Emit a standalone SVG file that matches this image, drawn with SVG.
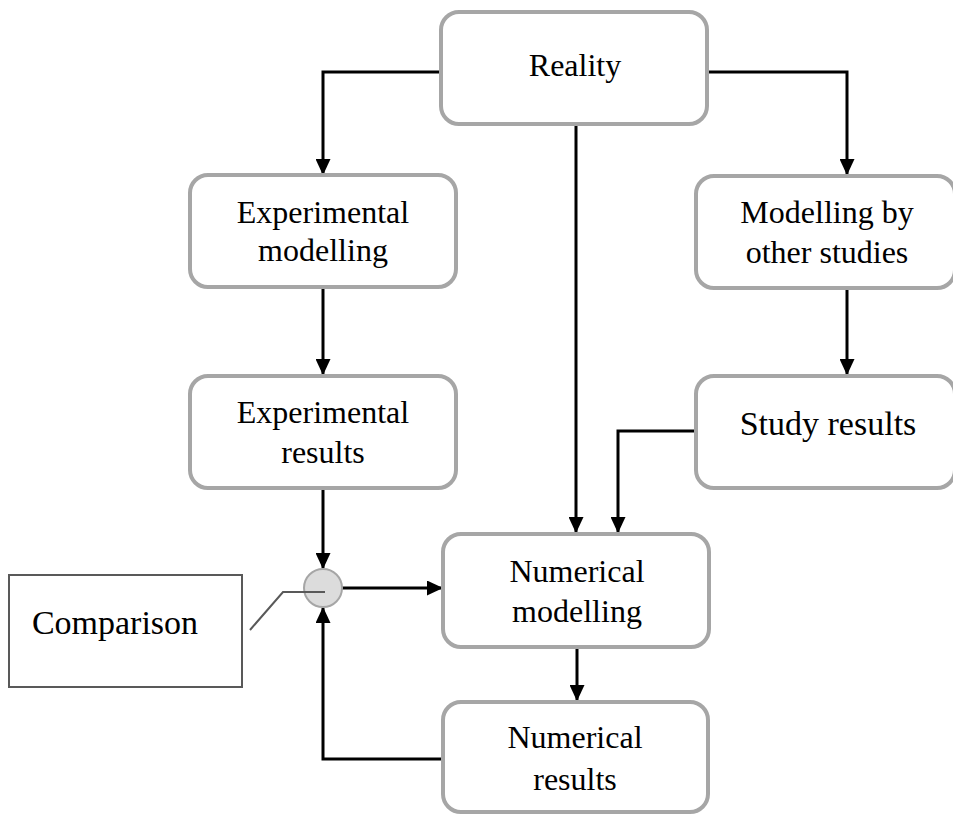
<svg xmlns="http://www.w3.org/2000/svg" width="953" height="815" viewBox="0 0 953 815">
<defs>
<marker id="ah" markerWidth="5.4" markerHeight="5" refX="5" refY="2.5" orient="auto" markerUnits="strokeWidth" viewBox="0 0 5.4 5">
<path d="M0,0 L5.4,2.5 L0,5 Z" fill="#000"/>
</marker>
<style>
.box{fill:#fff;stroke:#a6a6a6;stroke-width:4}
.t{font-size:32px;fill:#000;text-anchor:middle}
.tb{font-size:34px}
.c{fill:none;stroke:#000;stroke-width:3;marker-end:url(#ah)}
</style>
</defs>
<rect width="953" height="815" fill="#fff"/>
<g id="connectors">
<path class="c" d="M441,72 H323 V174"/>
<path class="c" d="M708,72 H847 V174"/>
<path class="c" d="M576,125 V532"/>
<path class="c" d="M696,431 H618 V532"/>
<path class="c" d="M323,288 V374"/>
<path class="c" d="M847,290 V374"/>
<path class="c" d="M323,488 V568"/>
<path class="c" d="M342,588 H442"/>
<path class="c" d="M577,648 V700"/>
<path class="c" d="M443,759 H323 V608"/>
</g>
<g font-family="Liberation Serif, Tinos, Times New Roman, DejaVu Serif, serif">
<g id="reality"><rect class="box" x="441" y="12" width="266" height="112" rx="18"/><text class="t" x="575" y="76">Reality</text></g>
<g id="exp-modelling"><rect class="box" x="190" y="175" width="266" height="112" rx="18"/><text class="t" x="323" y="223">Experimental</text><text class="t" x="323" y="261">modelling</text></g>
<g id="exp-results"><rect class="box" x="190" y="376" width="266" height="112" rx="18"/><text class="t" x="323" y="423">Experimental</text><text class="t" x="323" y="463">results</text></g>
<g id="other-modelling"><rect class="box" x="696" y="176" width="259" height="112" rx="18"/><text class="t" x="827" y="223">Modelling by</text><text class="t" x="827" y="263">other studies</text></g>
<g id="study-results"><rect class="box" x="696" y="376" width="259" height="112" rx="18"/><text class="t tb" x="828" y="435">Study results</text></g>
<g id="num-modelling"><rect class="box" x="443" y="534" width="266" height="113" rx="18"/><text class="t" x="577" y="582">Numerical</text><text class="t" x="577" y="622">modelling</text></g>
<g id="num-results"><rect class="box" x="443" y="702" width="265" height="110" rx="18"/><text class="t" x="575" y="748">Numerical</text><text class="t" x="575" y="790">results</text></g>
<g id="comparison"><rect x="9" y="575" width="233" height="112" fill="#fff" stroke="#595959" stroke-width="2"/><text class="t tb" x="115" y="634">Comparison</text></g>
</g>
<g id="junction"><circle cx="323" cy="588" r="19" fill="#dcdcdc" stroke="#a6a6a6" stroke-width="2"/><path d="M250,630 L283,592 H325" fill="none" stroke="#595959" stroke-width="2"/></g>
</svg>
